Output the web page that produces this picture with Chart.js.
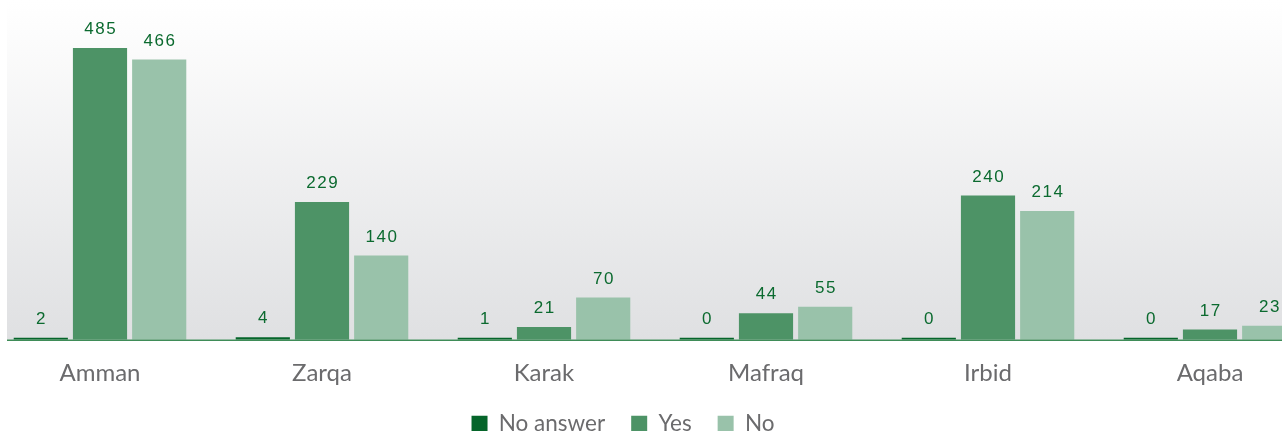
<!DOCTYPE html>
<html>
<head>
  <title>Responses by Governorate</title>
  <script src="https://cdn.jsdelivr.net/npm/chart.js"></script>
  <style>
    html, body { margin: 0; padding: 0; background: #fff; overflow: hidden; }
    #wrap { position: absolute; left: -11px; top: 0; width: 1332px; height: 445px; }
  </style>
</head>
<body>
  <div id="wrap"><canvas id="govChart"></canvas></div>

  <script>
    const governorates = ["Amman", "Zarqa", "Karak", "Mafraq", "Irbid", "Aqaba"];
    const noAnswer = [2, 4, 1, 0, 0, 0];
    const yes = [485, 229, 21, 44, 240, 17];
    const no = [466, 140, 70, 55, 214, 23];

    const BG_LEFT = 18;        // where the shaded panel starts inside the canvas
    const LEGEND_SHIFT = -32;  // legend sits a little left of centre

    // grey gradient panel behind the bars plus the green baseline
    const panelPlugin = {
      id: "panel",
      afterLayout(chart) {
        chart.legend.left += LEGEND_SHIFT;
        chart.legend.right += LEGEND_SHIFT;
      },
      beforeDraw(chart) {
        const { ctx, chartArea, width } = chart;
        const g = ctx.createLinearGradient(0, 0, 0, chartArea.bottom);
        g.addColorStop(0, "#ffffff");
        g.addColorStop(0.08, "#fdfdfd");
        g.addColorStop(1, "#dfe0e2");
        ctx.save();
        ctx.fillStyle = g;
        ctx.fillRect(BG_LEFT, 0, width - BG_LEFT, chartArea.bottom);
        ctx.restore();
      },
      afterDatasetsDraw(chart) {
        const { ctx, chartArea, width } = chart;
        ctx.save();
        ctx.strokeStyle = "#3f8c58";
        ctx.lineWidth = 1.5;
        ctx.beginPath();
        ctx.moveTo(BG_LEFT, chartArea.bottom + 0.5);
        ctx.lineTo(width, chartArea.bottom + 0.5);
        ctx.stroke();
        ctx.restore();
      }
    };

    // value labels above every bar
    const valueLabels = {
      id: "valueLabels",
      afterDatasetsDraw(chart) {
        const { ctx } = chart;
        const spacing = 1.5;
        ctx.save();
        ctx.font = "17px 'Liberation Sans', Arial, sans-serif";
        ctx.letterSpacing = spacing + "px";
        ctx.fillStyle = "#0b6a2f";
        ctx.textAlign = "center";
        ctx.textBaseline = "bottom";
        chart.data.datasets.forEach((ds, i) => {
          chart.getDatasetMeta(i).data.forEach((bar, j) => {
            ctx.fillText(String(ds.data[j]), bar.x + spacing / 2, bar.y - 10);
          });
        });
        ctx.restore();
      }
    };

    new Chart(document.getElementById("govChart"), {
      type: "bar",
      data: {
        labels: governorates,
        datasets: [
          { label: "No answer", data: noAnswer, backgroundColor: "#05652a" },
          { label: "Yes", data: yes, backgroundColor: "#4d9366" },
          { label: "No", data: no, backgroundColor: "#99c2aa" }
        ]
      },
      options: {
        responsive: true,
        maintainAspectRatio: false,
        animation: false,
        datasets: {
          bar: { categoryPercentage: 0.8, barPercentage: 0.915, minBarLength: 2 }
        },
        layout: { padding: { top: 15, left: 0, right: 0, bottom: 0 } },
        scales: {
          x: {
            grid: { display: false, drawTicks: false },
            border: { display: false },
            ticks: {
              color: "#6b6b6d",
              padding: 19,
              font: { family: "Lato", size: 24 }
            },
            afterFit(scale) {
              scale.height -= 20;
            }
          },
          y: { display: false, min: 0, max: 540 }
        },
        plugins: {
          legend: {
            position: "bottom",
            labels: {
              boxWidth: 16,
              boxHeight: 16,
              padding: 26,
              color: "#6b6b6d",
              font: { family: "Lato", size: 22.5 }
            }
          },
          tooltip: { enabled: false }
        }
      },
      plugins: [panelPlugin, valueLabels]
    });
  </script>
</body>
</html>
